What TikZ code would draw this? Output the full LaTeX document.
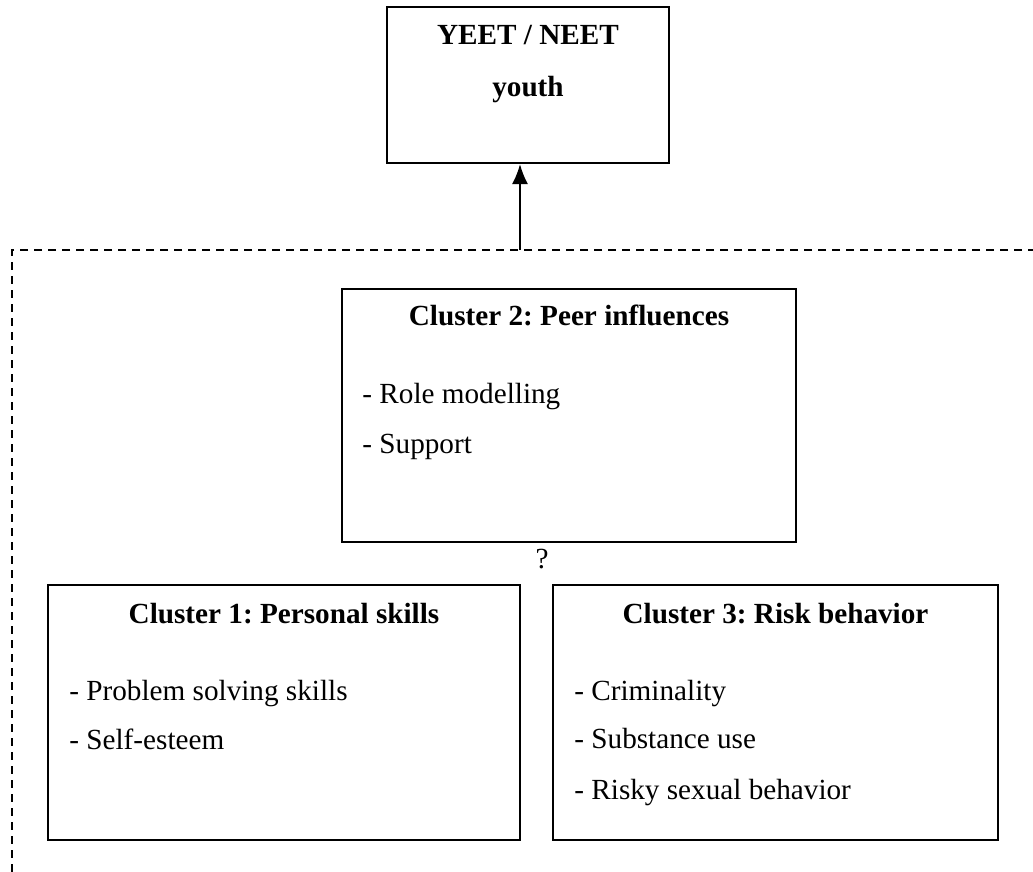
\documentclass[tikz,border=0pt]{standalone}
\usepackage{fontspec}
\setmainfont{Liberation Serif}
\usepackage{tikz}
\usetikzlibrary{arrows.meta,calc}
\frenchspacing

\begin{document}
\begin{tikzpicture}[x=0.5pt, y=-0.5pt,
    every node/.style={font=\fontsize{14.6}{17.5}\selectfont},
    clusterbox/.style={rectangle, draw=black, line width=1pt, inner sep=0pt},
    boxtitle/.style={anchor=base, font=\fontsize{14.6}{17.5}\selectfont\bfseries},
    boxitem/.style={anchor=base west, inner sep=0pt},
    dashbox/.style={draw=black, line width=1pt, dash pattern=on 4pt off 3pt},
    arr/.style={-{Latex[length=10pt, width=8pt]}, line width=1pt}]

  \useasboundingbox (0,0) rectangle (1033,872);
  \clip (0,0) rectangle (1033,872);

  % Define nodes
  \node[clusterbox, minimum width=141pt, minimum height=78pt] (yeet) at (528,85) {};
  \node[boxtitle] (yeet1) at (528,45) {YEET / NEET};
  \node[boxtitle] (yeet2) at (528,97) {youth};

  \node[clusterbox, minimum width=227pt, minimum height=126.5pt] (peer) at (569,415.5) {};
  \node[boxtitle] (peert) at (569,325) {Cluster 2: Peer influences};
  \node[boxitem] (peer1) at (362,403) {- Role modelling};
  \node[boxitem] (peer2) at (362,453) {- Support};

  \node (quest) at (542,568) [anchor=base, inner sep=0pt] {?};

  \node[clusterbox, minimum width=236pt, minimum height=127.5pt] (pers) at (284,712.5) {};
  \node[boxtitle] (perst) at (284,623) {Cluster 1: Personal skills};
  \node[boxitem] (pers1) at (69,700) {- Problem solving skills};
  \node[boxitem] (pers2) at (69,749) {- Self-esteem};

  \node[clusterbox, minimum width=222.5pt, minimum height=127.5pt] (risk) at (775.5,712.5) {};
  \node[boxtitle] (riskt) at (775.5,623) {Cluster 3: Risk behavior};
  \node[boxitem] (risk1) at (574,700) {- Criminality};
  \node[boxitem] (risk2) at (574,748) {- Substance use};
  \node[boxitem] (risk3) at (574,799) {- Risky sexual behavior};

  % dashed frame, open to the right and bottom
  \coordinate (dtl) at (12,250);
  \coordinate (dtr) at (1050,250);
  \coordinate (dbl) at (12,890);
  \draw[dashbox] (dtr) -- (dtl) -- (dbl);

  \coordinate (arrowfoot) at (520,250);
  \draw[arr] (arrowfoot) -- (arrowfoot |- yeet.south);

\end{tikzpicture}
\end{document}
